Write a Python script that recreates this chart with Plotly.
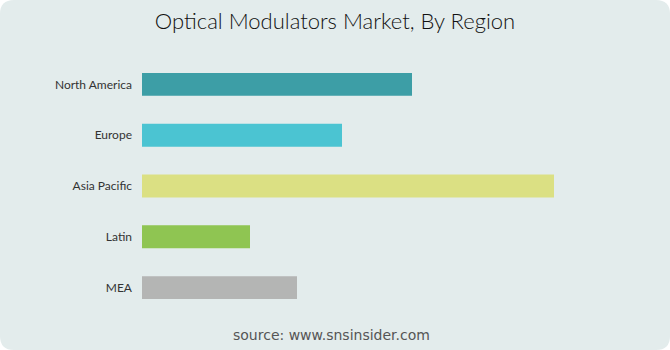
import plotly.graph_objects as go

regions = ["North America", "Europe", "Asia Pacific", "Latin", "MEA"]
values = [270, 200, 412, 108, 155]
colors = ["#3d9ea6", "#4bc4d2", "#dbe083", "#8fc552", "#b4b5b4"]

W, H = 670, 350
L, R, T, B = 142, 28, 59, 37
PW, PH = W - L - R, H - T - B


def px(x):
    return (x - L) / PW


def py(y):
    return (H - B - y) / PH


fig = go.Figure(go.Bar(
    y=regions, x=values, orientation="h",
    marker=dict(color=colors, line=dict(width=0)),
    width=0.45, hoverinfo="skip",
))

r = 14
x0, x1, y0, y1 = px(0), px(W), py(H), py(0)
rx, ry = r / PW, r / PH
path = (f"M {x0+rx},{y1} L {x1-rx},{y1} Q {x1},{y1} {x1},{y1-ry} L {x1},{y0+ry} "
        f"Q {x1},{y0} {x1-rx},{y0} L {x0+rx},{y0} Q {x0},{y0} {x0},{y0+ry} "
        f"L {x0},{y1-ry} Q {x0},{y1} {x0+rx},{y1} Z")
fig.add_shape(type="path", path=path, xref="paper", yref="paper",
              fillcolor="#e3ecec", line=dict(width=0), layer="below")

fig.update_layout(
    width=W, height=H,
    margin=dict(l=L, r=R, t=T, b=B),
    paper_bgcolor="white", plot_bgcolor="rgba(0,0,0,0)",
    showlegend=False,
    title=dict(text="Optical Modulators Market, By Region", x=335 / W, xref="container",
               y=1 - 21 / H, yref="container", xanchor="center", yanchor="middle",
               font=dict(family="Lato", size=22, weight=300, color="#111111")),
    xaxis=dict(range=[0, PW], visible=False, fixedrange=True),
    yaxis=dict(autorange="reversed", showgrid=False, zeroline=False, showline=False,
               ticks="", ticklabelstandoff=9,
               tickfont=dict(family="Lato", size=12, color="#333333")),
    annotations=[dict(text="source: www.snsinsider.com", xref="paper", yref="paper",
                      x=px(331), y=py(335), xanchor="center",
                      yanchor="middle", showarrow=False,
                      font=dict(family="DejaVu Sans", size=14, color="#555555"))],
)

fig.write_html("out.html")
